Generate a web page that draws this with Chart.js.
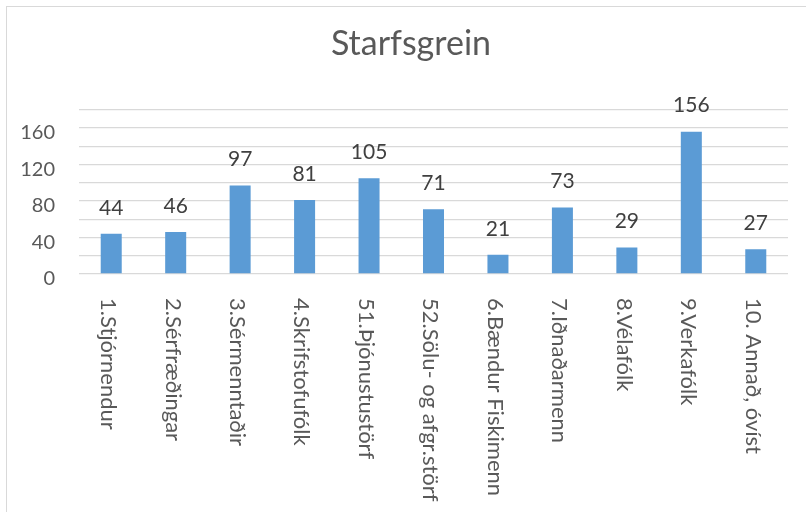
<!DOCTYPE html>
<html>
<head>
<meta charset="utf-8">
<title>Starfsgrein</title>
<script src="https://cdn.jsdelivr.net/npm/chart.js@4/dist/chart.umd.min.js"></script>
<style>
  html, body { margin: 0; padding: 0; background: #fff; overflow: hidden; }
  #wrap { position: relative; width: 806px; height: 512px; }
  #frame { position: absolute; left: 6px; top: 6px; width: 820px; height: 530px;
           border: 1.5px solid #d9d9d9; box-sizing: border-box; }
  canvas { position: absolute; left: 0; top: 0; }
</style>
</head>
<body>
<div id="wrap">
  <div id="frame"></div>
  <canvas id="myChart" width="806" height="512"></canvas>
</div>
<script>
// data
var categories = ['1.Stjórnendur', '2.Sérfræðingar', '3.Sérmenntaðir', '4.Skrifstofufólk',
    '51.Þjónustustörf', '52.Sölu- og afgr.störf', '6.Bændur Fiskimenn', '7.Iðnaðarmenn',
    '8.Vélafólk', '9.Verkafólk', '10. Annað, óvíst'];
var counts = [44, 46, 97, 81, 105, 71, 21, 73, 29, 156, 27];
var yTicks = [0, 40, 80, 120, 160];

var fontFamily = 'Lato, "Open Sans", sans-serif';

// the title sits centred over the whole frame, not the plot
var titleShift = {
    id: 'titleShift',
    afterLayout: function (chart) {
        if (chart.titleBlock) chart.titleBlock.left = 34;
    }
};

// number above each bar
var valueLabels = {
    id: 'valueLabels',
    afterDatasetsDraw: function (chart) {
        var ctx = chart.ctx;
        var meta = chart.getDatasetMeta(0);
        ctx.save();
        ctx.font = '21px ' + fontFamily;
        ctx.fillStyle = '#404040';
        ctx.textAlign = 'center';
        ctx.textBaseline = 'middle';
        meta.data.forEach(function (bar, i) {
            ctx.fillText(String(counts[i]), bar.x, bar.y - 26);
        });
        ctx.restore();
    }
};

// category names, turned to read top to bottom
var downLabels = {
    id: 'downLabels',
    afterDraw: function (chart) {
        var ctx = chart.ctx;
        var xs = chart.scales.x;
        ctx.save();
        ctx.font = '22px ' + fontFamily;
        ctx.fillStyle = '#595959';
        ctx.textAlign = 'left';
        ctx.textBaseline = 'middle';
        categories.forEach(function (name, i) {
            ctx.save();
            ctx.translate(xs.getPixelForTick(i) - 3, xs.top + 24);
            ctx.rotate(Math.PI / 2);
            ctx.fillText(name, 0, 0);
            ctx.restore();
        });
        ctx.restore();
    }
};

var ctx = document.getElementById('myChart').getContext('2d');
var myChart = new Chart(ctx, {
    type: 'bar',
    data: {
        labels: categories,
        datasets: [{
            label: 'Starfsgrein',
            data: counts,
            backgroundColor: '#5B9BD5',
            barPercentage: 0.326,
            categoryPercentage: 1
        }]
    },
    options: {
        responsive: false,
        animation: false,
        layout: { padding: { left: 0, right: 18, top: 0, bottom: 0 } },
        plugins: {
            legend: { display: false },
            tooltip: { enabled: false },
            title: {
                display: true,
                text: 'Starfsgrein',
                color: '#595959',
                font: { family: fontFamily, size: 34, weight: 'normal', lineHeight: 1.2 },
                padding: { top: 24, bottom: 45 }
            }
        },
        scales: {
            x: {
                grid: { display: false },
                border: { display: false },
                ticks: { display: false },
                afterFit: function (scale) { scale.height = 238; }
            },
            y: {
                min: 0,
                max: 180,
                grid: { color: '#d9d9d9', lineWidth: 1.3, drawTicks: false },
                border: { display: false },
                ticks: {
                    stepSize: 20,
                    autoSkip: false,
                    padding: 24,
                    labelOffset: 5,
                    color: '#595959',
                    font: { family: fontFamily, size: 20 },
                    callback: function (v) { return yTicks.indexOf(v) >= 0 ? String(v) : ''; }
                },
                afterFit: function (scale) { scale.width = 79; }
            }
        }
    },
    plugins: [titleShift, valueLabels, downLabels]
});
</script>
</body>
</html>
